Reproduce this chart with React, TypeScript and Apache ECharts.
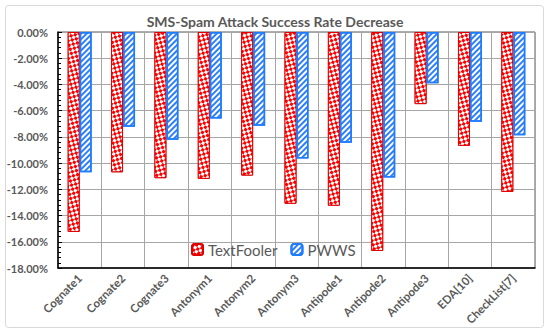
import React, { useEffect, useRef } from "react";
import * as echarts from "echarts";

const categories = ["Cognate1", "Cognate2", "Cognate3", "Antonym1", "Antonym2", "Antonym3", "Antipode1", "Antipode2", "Antipode3", "EDA[10]", "CheckList[7]"];
const textFooler = [-15.25, -10.7, -11.15, -11.2, -10.95, -13.1, -13.25, -16.7, -5.5, -8.68, -12.2];
const pwws = [-10.7, -7.23, -8.22, -6.6, -7.15, -9.65, -8.45, -11.1, -3.9, -6.85, -7.88];
const seriesNames = ["TextFooler", "PWWS"];
const titleText = "SMS-Spam Attack Success Rate Decrease";

export default function App() {
  const ref = useRef<HTMLDivElement>(null);
  useEffect(() => {
    document.body.style.margin = "0";
    const chart = echarts.init(ref.current!, null, { renderer: "svg" });
    const font = "Lato, 'Open Sans', sans-serif";
    chart.setOption({
      animation: false,
      aria: { enabled: true, decal: { show: true } },
      title: {
        text: titleText,
        left: "center",
        top: 9,
        textStyle: { fontFamily: font, fontSize: 14, fontWeight: "bold", color: "#595959" },
      },
      graphic: [
        {
          type: "rect",
          shape: { x: 5.5, y: 5.5, width: 538, height: 322, r: 3 },
          style: { fill: "none", stroke: "#d9d9d9", lineWidth: 1 },
          silent: true,
          z: -10,
        },
      ],
      legend: {
        data: seriesNames,
        left: 186,
        top: 237,
        itemWidth: 11,
        itemHeight: 11,
        itemGap: 13,
        textStyle: { fontFamily: font, fontSize: 15, color: "#595959" },
      },
      grid: {
        left: 58,
        right: 15,
        top: 32,
        bottom: 66,
        show: true,
        borderColor: "#595959",
        borderWidth: 1,
        backgroundColor: "transparent",
      },
      xAxis: {
        type: "category",
        data: categories,
        position: "bottom",
        axisLine: { onZero: false, lineStyle: { color: "#000", width: 1.5 } },
        axisTick: { show: false },
        splitLine: { show: true, lineStyle: { color: "#a6a6a6", width: 1 } },
        axisLabel: {
          rotate: 45,
          interval: 0,
          fontFamily: font,
          fontSize: 11.5,
          fontWeight: "bold",
          color: "#595959",
          margin: 8,
        },
      },
      yAxis: {
        type: "value",
        min: -18,
        max: 0,
        interval: 2,
        axisLine: { show: true, lineStyle: { color: "#000", width: 1.5 } },
        axisTick: { show: true, inside: true, length: 4, lineStyle: { color: "#000" } },
        minorTick: { show: true, splitNumber: 5, length: 3, lineStyle: { color: "#000" } },
        splitLine: { show: true, lineStyle: { color: "#a6a6a6", width: 1 } },
        axisLabel: {
          fontFamily: font,
          fontSize: 11,
          fontWeight: "bold",
          color: "#595959",
          margin: 10,
          formatter: (v: number) => v.toFixed(2) + "%",
        },
      },
      series: [
        {
          name: seriesNames[0],
          type: "bar",
          data: textFooler,
          barWidth: 12,
          barGap: "0%",
          itemStyle: {
            color: "#ff0000",
            borderColor: "#e00000",
            borderWidth: 1,
            decal: {
              symbol: "rect",
              symbolSize: 1,
              color: "#ffffff",
              dashArrayX: [[3, 3], [0, 3, 3, 0]],
              dashArrayY: [3, 0],
            },
          },
        },
        {
          name: seriesNames[1],
          type: "bar",
          data: pwws,
          barWidth: 12,
          itemStyle: {
            color: "#ffffff",
            borderColor: "#1f7bff",
            borderWidth: 1.5,
            decal: {
              symbol: "rect",
              symbolSize: 1,
              color: "#2d7ff9",
              dashArrayX: [1, 0],
              dashArrayY: [2, 2],
              rotation: -Math.PI / 4,
            },
          },
        },
      ],
    });
    return () => chart.dispose();
  }, []);
  return <div ref={ref} style={{ width: 550, height: 334 }} />;
}
